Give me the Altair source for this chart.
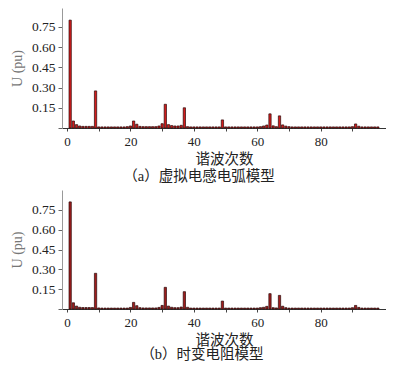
import altair as alt
import pandas as pd

# harmonic orders 1..98
orders = list(range(1, 99))

# (a) virtual-inductance arc model
vals_a = [
    0.800, 0.052, 0.025, 0.015, 0.012, 0.012, 0.012, 0.012, 0.275, 0.008,
    0.008, 0.008, 0.008, 0.008, 0.008, 0.008, 0.008, 0.008, 0.010, 0.015,
    0.052, 0.028, 0.012, 0.010, 0.010, 0.010, 0.010, 0.010, 0.015, 0.032,
    0.176, 0.025, 0.018, 0.015, 0.015, 0.020, 0.150, 0.010, 0.008, 0.008,
    0.008, 0.008, 0.008, 0.008, 0.008, 0.008, 0.008, 0.008, 0.060, 0.008,
    0.008, 0.008, 0.008, 0.008, 0.008, 0.008, 0.008, 0.008, 0.008, 0.008,
    0.010, 0.015, 0.022, 0.105, 0.016, 0.010, 0.090, 0.023, 0.014, 0.010,
    0.008, 0.008, 0.008, 0.008, 0.008, 0.008, 0.008, 0.008, 0.008, 0.008,
    0.008, 0.008, 0.008, 0.008, 0.008, 0.008, 0.008, 0.008, 0.008, 0.010,
    0.030, 0.013, 0.008, 0.008, 0.008, 0.008, 0.008, 0.008,
]

# (b) time-varying resistance model
vals_b = [
    0.810, 0.047, 0.022, 0.013, 0.011, 0.011, 0.011, 0.011, 0.270, 0.008,
    0.007, 0.007, 0.007, 0.007, 0.007, 0.007, 0.007, 0.007, 0.007, 0.012,
    0.050, 0.025, 0.010, 0.008, 0.008, 0.008, 0.008, 0.008, 0.012, 0.027,
    0.164, 0.022, 0.013, 0.010, 0.010, 0.015, 0.131, 0.013, 0.007, 0.007,
    0.007, 0.007, 0.007, 0.007, 0.007, 0.007, 0.007, 0.007, 0.060, 0.007,
    0.007, 0.007, 0.007, 0.007, 0.007, 0.007, 0.007, 0.007, 0.007, 0.007,
    0.010, 0.013, 0.020, 0.116, 0.010, 0.008, 0.103, 0.021, 0.010, 0.007,
    0.007, 0.007, 0.007, 0.007, 0.007, 0.007, 0.007, 0.007, 0.007, 0.007,
    0.007, 0.007, 0.007, 0.007, 0.007, 0.007, 0.007, 0.007, 0.007, 0.010,
    0.027, 0.012, 0.007, 0.007, 0.007, 0.007, 0.007, 0.007,
]

x_ticks = [0, 10, 20, 30, 40, 50, 60, 70, 80, 90]
y_ticks = [0, 0.15, 0.30, 0.45, 0.60, 0.75]
x_title = "谐波次数"
y_title = "U (pu)"
cap_a = "（a）虚拟电感电弧模型"
cap_b = "（b）时变电阻模型"

SERIF = "Liberation Serif"
CJK = "Liberation Serif, Noto Sans CJK SC"


def panel(vals, caption, height, ymax, fill, tpad, toff, dx):
    df = pd.DataFrame({"order": orders, "u": vals})
    return (
        alt.Chart(df, title=alt.Title(
            caption, orient="bottom", anchor="middle", font=CJK,
            fontSize=14.5, fontWeight="normal", color="#222", offset=toff, dx=dx))
        .mark_bar(size=2.3, fill=fill, stroke="#2a0a0a", strokeWidth=0.7)
        .encode(
            x=alt.X("order:Q", scale=alt.Scale(domain=[0, 99], nice=False, zero=True),
                    axis=alt.Axis(values=x_ticks, title=x_title, grid=False,
                                  labelExpr="datum.value % 20 == 0 ? datum.label : ''",
                                  labelFont=SERIF, labelFontSize=13, labelColor="#222",
                                  labelPadding=4, tickSize=3, tickColor="#444",
                                  domainColor="#333", titleFont=CJK, titleFontSize=14.5,
                                  titleFontWeight="normal", titleColor="#222",
                                  titlePadding=tpad)),
            y=alt.Y("u:Q", scale=alt.Scale(domain=[0, ymax], nice=False),
                    axis=alt.Axis(values=y_ticks, title=y_title, grid=False, format=".2f",
                                  labelExpr="datum.value == 0 ? '' : datum.label",
                                  labelFont=SERIF, labelFontSize=13.5, labelColor="#222",
                                  labelPadding=3, tickSize=4, tickColor="#666",
                                  domainColor="#999", titleFont=SERIF, titleFontSize=14,
                                  titleFontWeight="normal", titleColor="#777",
                                  titlePadding=6.5)),
        )
        .properties(width=324, height=height)
    )


top = panel(vals_a, cap_a, 120, 0.89, "#d41c1c", 4, 4, -25)
bottom = panel(vals_b, cap_b, 119, 0.9, "#a01c1c", 4, 1.5, -22)

chart = (
    alt.vconcat(top, bottom, spacing=7)
    .properties(padding={"left": 2, "top": 0, "right": 0, "bottom": 0})
    .configure_view(stroke=None)
)

chart.save("out.html", embed_options={"renderer": "svg", "actions": False})
